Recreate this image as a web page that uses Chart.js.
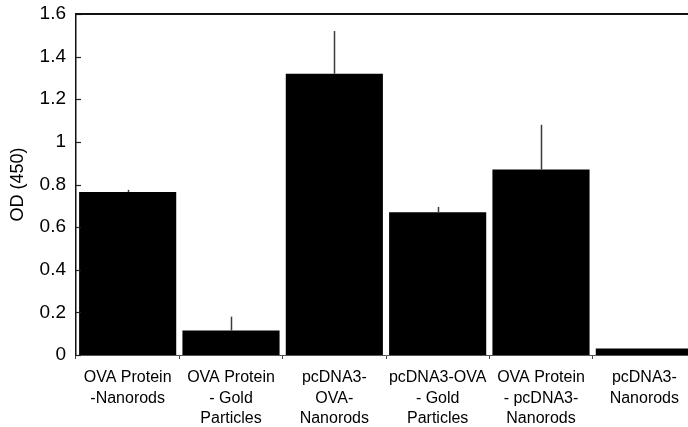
<!DOCTYPE html>
<html>
<head>
<meta charset="utf-8">
<script src="https://cdn.jsdelivr.net/npm/chart.js@4/dist/chart.umd.min.js"></script>
<style>
  html, body { margin: 0; padding: 0; background: #fff; overflow: hidden; }
  #wrap { width: 688px; height: 427px; overflow: hidden; }
</style>
</head>
<body>
<div id="wrap"><canvas id="od-chart" width="696" height="427"></canvas></div>
<script>
// OD (450) bar chart with one-sided error bars

const categories = [
    ["OVA Protein", "-Nanorods"],
    ["OVA Protein", "- Gold", "Particles"],
    ["pcDNA3-", "OVA-", "Nanorods"],
    ["pcDNA3-OVA", "- Gold", "Particles"],
    ["OVA Protein", "- pcDNA3-", "Nanorods"],
    ["pcDNA3-", "Nanorods"]
];
const odValues  = [0.765, 0.115, 1.32, 0.67, 0.87, 0.03];
const odErrors  = [0.01, 0.065, 0.2, 0.025, 0.21, 0];
const yTicks    = [0, 0.2, 0.4, 0.6, 0.8, 1, 1.2, 1.4, 1.6];

// draws the upper error whiskers, inward y ticks and the top frame line
const extrasPlugin = {
    id: "extras",
    afterDatasetsDraw(chart) {
        const ctx = chart.ctx;
        const x = chart.scales.x;
        const y = chart.scales.y;
        const area = chart.chartArea;
        ctx.save();

        // error bars (up only)
        ctx.strokeStyle = "#3a3a3a";
        ctx.lineWidth = 1.5;
        odValues.forEach((v, i) => {
            if (!odErrors[i]) return;
            const px = Math.round(x.getPixelForValue(i)) + 0.5;
            ctx.beginPath();
            ctx.moveTo(px, y.getPixelForValue(v));
            ctx.lineTo(px, y.getPixelForValue(v + odErrors[i]));
            ctx.stroke();
        });

        // inward tick marks on the y axis
        ctx.strokeStyle = "#222";
        ctx.lineWidth = 1.2;
        yTicks.forEach((t) => {
            const py = Math.round(y.getPixelForValue(t)) + 0.5;
            ctx.beginPath();
            ctx.moveTo(area.left, py);
            ctx.lineTo(area.left + 5, py);
            ctx.stroke();
        });

        // top frame line
        ctx.strokeStyle = "#111";
        ctx.lineWidth = 2;
        ctx.beginPath();
        ctx.moveTo(area.left, area.top);
        ctx.lineTo(chart.width, area.top);
        ctx.stroke();

        ctx.restore();
    }
};

new Chart(document.getElementById("od-chart").getContext("2d"), {
    type: "bar",
    data: {
        labels: categories,
        datasets: [
            {
                label: "OD (450)",
                data: odValues,
                backgroundColor: "#000",
                borderWidth: 0,
                barPercentage: 0.94,
                categoryPercentage: 1.0
            }
        ]
    },
    options: {
        responsive: false,
        animation: false,
        devicePixelRatio: 1,
        layout: { padding: { top: 14, left: 0, right: 0, bottom: 0 } },
        plugins: {
            legend: { display: false },
            tooltip: { enabled: false }
        },
        scales: {
            x: {
                offset: true,
                grid: {
                    display: true,
                    offset: true,
                    drawOnChartArea: false,
                    tickLength: 4,
                    color: "#444",
                    lineWidth: 1
                },
                border: { display: true, color: "#555", width: 1 },
                ticks: {
                    color: "#000",
                    padding: 8,
                    maxRotation: 0,
                    autoSkip: false,
                    font: { family: "'Liberation Sans', Arial, sans-serif", size: 16, lineHeight: 1.3 }
                },
                afterFit(scale) {
                    scale.height = 72;
                    scale.paddingLeft = 0;
                    scale.paddingRight = 0;
                }
            },
            y: {
                min: 0,
                max: 1.6,
                grid: { display: false, drawTicks: false, tickLength: 0 },
                border: { display: true, color: "#111", width: 1.5 },
                ticks: {
                    stepSize: 0.2,
                    color: "#000",
                    padding: 10,
                    font: { family: "'Liberation Sans', Arial, sans-serif", size: 19 },
                    callback: (v) => String(+v.toFixed(1))
                },
                title: {
                    display: true,
                    text: "OD (450)",
                    color: "#000",
                    padding: { top: 7, bottom: 0 },
                    font: { family: "'Liberation Sans', Arial, sans-serif", size: 18, weight: "normal" }
                },
                afterFit(scale) {
                    scale.width = 76;
                    scale.paddingTop = 0;
                    scale.paddingBottom = 0;
                }
            }
        }
    },
    plugins: [extrasPlugin]
});
</script>
</body>
</html>
